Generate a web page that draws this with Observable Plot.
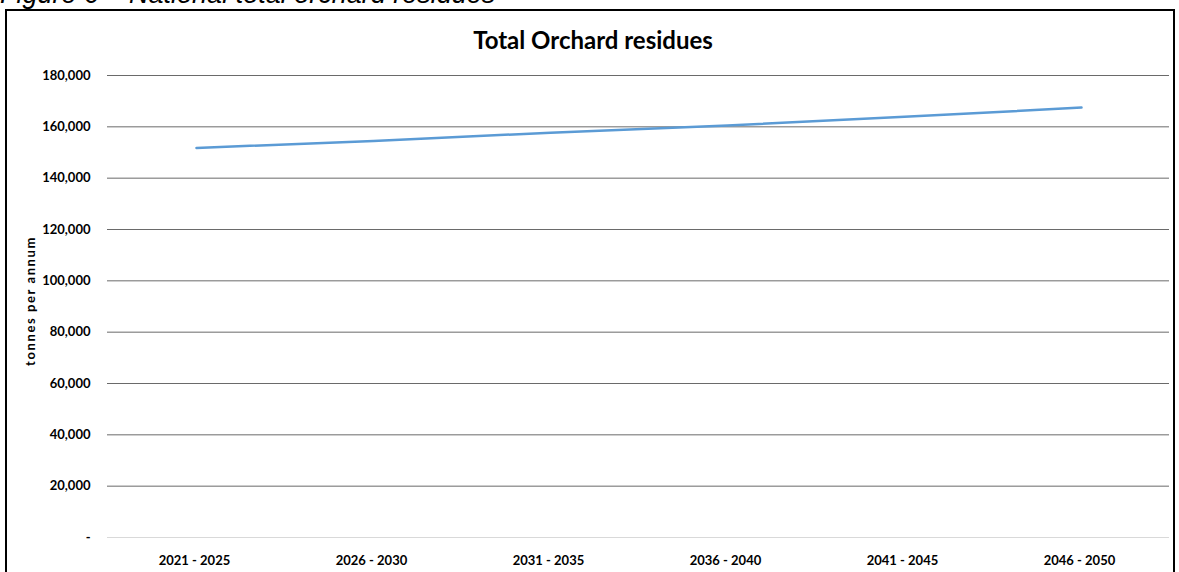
<!DOCTYPE html>
<html>
<head>
<meta charset="utf-8">
<script src="https://cdn.jsdelivr.net/npm/d3@7"></script>
<script src="https://cdn.jsdelivr.net/npm/@observablehq/plot@0.6"></script>
<style>
  html, body { margin: 0; padding: 0; background: #fff; }
  body { width: 1179px; height: 572px; overflow: hidden; position: relative; }
  #caption { position: absolute; left: 0; top: -19px; font: italic 27px/27px "Liberation Sans", Arial, sans-serif; white-space: nowrap; color: #000; }
  #box { position: absolute; left: 5px; top: 9px; width: 1166px; height: 620px; border: 2px solid #000; }
  #title { position: absolute; left: 0; width: 1186px; text-align: center; top: 25px; font: bold 24px Lato, sans-serif; color: #000; }
  #ylab { position: absolute; left: 30px; top: 301px; transform: translate(-50%, -50%) rotate(-90deg); font: bold 13px Lato, sans-serif; letter-spacing: 1.6px; white-space: nowrap; color: #000; }
  #chart { position: absolute; left: 0; top: 0; }
</style>
</head>
<body>
<div id="caption">Figure 6 – National total orchard residues</div>
<div id="box"></div>
<div id="chart"></div>
<div id="title">Total Orchard residues</div>
<div id="ylab">tonnes per annum</div>
<script>
const periods = ["2021 - 2025", "2026 - 2030", "2031 - 2035", "2036 - 2040", "2041 - 2045", "2046 - 2050"];
const residues = [151800, 154500, 157700, 160500, 163900, 167500];
const yTicks = [0, 20000, 40000, 60000, 80000, 100000, 120000, 140000, 160000, 180000];

const data = periods.map((p, i) => ({period: p, value: residues[i]}));
const fmt = d3.format(",");

const chart = Plot.plot({
  width: 1179,
  height: 572,
  marginLeft: 107,
  marginRight: 10,
  marginTop: 75,
  marginBottom: 35,
  style: {fontFamily: "Lato, sans-serif", fontSize: "13px", fontWeight: "bold", color: "#000", background: "transparent"},
  x: {type: "point", domain: periods, padding: 0.5, label: null},
  y: {domain: [0, 180000], label: null},
  marks: [
    Plot.ruleY(yTicks.filter(d => d > 0), {stroke: "#6a6a6a", strokeWidth: 1, strokeOpacity: 1}),
    Plot.ruleY([0], {stroke: "#d9d9d9", strokeWidth: 1}),
    Plot.axisY({ticks: yTicks, tickSize: 0, tickPadding: 17, tickFormat: d => d === 0 ? "-" : fmt(d), label: null}),
    Plot.axisX({tickSize: 0, tickPadding: 18, label: null, dx: -2}),
    Plot.line(data, {x: "period", y: "value", stroke: "#5B9BD5", strokeWidth: 2.5})
  ]
});
document.getElementById("chart").appendChild(chart);
</script>
</body>
</html>
